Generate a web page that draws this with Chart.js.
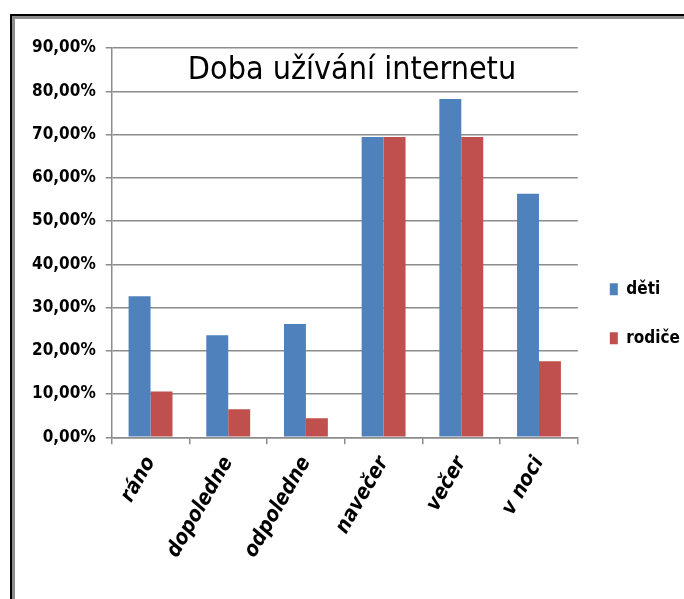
<!DOCTYPE html>
<html>
<head>
<meta charset="utf-8">
<script src="https://cdn.jsdelivr.net/npm/chart.js@4/dist/chart.umd.min.js"></script>
<style>
  html, body { margin: 0; padding: 0; background: #fff; }
  #wrap { position: relative; width: 684px; height: 599px; overflow: hidden; }
  #frame { position: absolute; left: 10px; top: 14px; right: -10px; bottom: -10px;
           border-left: 2px solid #000; border-top: 2px solid #000; }
  #frame2 { position: absolute; left: 12px; top: 16px; right: -10px; bottom: -10px;
            border-left: 3px solid #8c8c8c; border-top: 3px solid #8c8c8c; }
  canvas { position: absolute; left: 0; top: 0; }
</style>
</head>
<body>
<div id="wrap">
  <div id="frame"></div>
  <div id="frame2"></div>
  <canvas id="chart" width="684" height="599"></canvas>
</div>
<script>
// data
const categories = ['ráno', 'dopoledne', 'odpoledne', 'navečer', 'večer', 'v noci'];
const detiValues = [32.6, 23.6, 26.2, 69.4, 78.2, 56.3];
const rodiceValues = [10.6, 6.5, 4.4, 69.4, 69.4, 17.6];
const chartTitle = 'Doba užívání internetu';

const FONT = '"Liberation Sans Narrow", "DejaVu Sans Condensed", "Liberation Sans", sans-serif';

// title sits inside the plot area, between the top gridlines
const titlePlugin = {
    id: 'innerTitle',
    afterDraw(chart) {
        const ctx = chart.ctx;
        ctx.save();
        ctx.font = '32px ' + FONT;
        ctx.fillStyle = '#000';
        ctx.textAlign = 'center';
        ctx.textBaseline = 'middle';
        ctx.fillText(chartTitle, 352, 71);
        ctx.restore();
    }
};

new Chart(document.getElementById('chart').getContext('2d'), {
    type: 'bar',
    data: {
        labels: categories,
        datasets: [
            { label: 'děti', data: detiValues, backgroundColor: '#4f81bd', borderWidth: 0 },
            { label: 'rodiče', data: rodiceValues, backgroundColor: '#c0504d', borderWidth: 0 }
        ]
    },
    options: {
        responsive: false,
        animation: false,
        layout: { padding: { top: 48, right: -6, bottom: 29, left: 22 } },
        plugins: {
            title: { display: false },
            tooltip: { enabled: false },
            legend: {
                position: 'right',
                // empty title only pushes the entries a bit lower
                title: { display: true, text: ' ', font: { size: 7 }, padding: { top: 0, bottom: 1 } },
                labels: {
                    boxWidth: 8, boxHeight: 12, padding: 32, color: '#000',
                    font: { family: FONT, size: 17, weight: 'bold' }
                }
            }
        },
        datasets: { bar: { categoryPercentage: 0.565, barPercentage: 1 } },
        scales: {
            x: {
                grid: { offset: true, drawOnChartArea: false, color: '#8c8c8c', lineWidth: 1.5, tickLength: 7 },
                border: { color: '#8c8c8c', width: 1.5 },
                ticks: {
                    minRotation: 60, maxRotation: 60, color: '#000', padding: 8,
                    font: { family: FONT, size: 21, weight: 'bold', style: 'italic' }
                }
            },
            y: {
                min: 0, max: 90,
                grid: { color: '#8c8c8c', lineWidth: 1.5, tickLength: 6 },
                border: { color: '#8c8c8c', width: 1.5 },
                ticks: {
                    stepSize: 10, color: '#000', padding: 10,
                    font: { family: FONT, size: 17, weight: 'bold' },
                    callback: v => v.toFixed(2).replace('.', ',') + '%'
                }
            }
        }
    },
    plugins: [titlePlugin]
});
</script>
</body>
</html>
